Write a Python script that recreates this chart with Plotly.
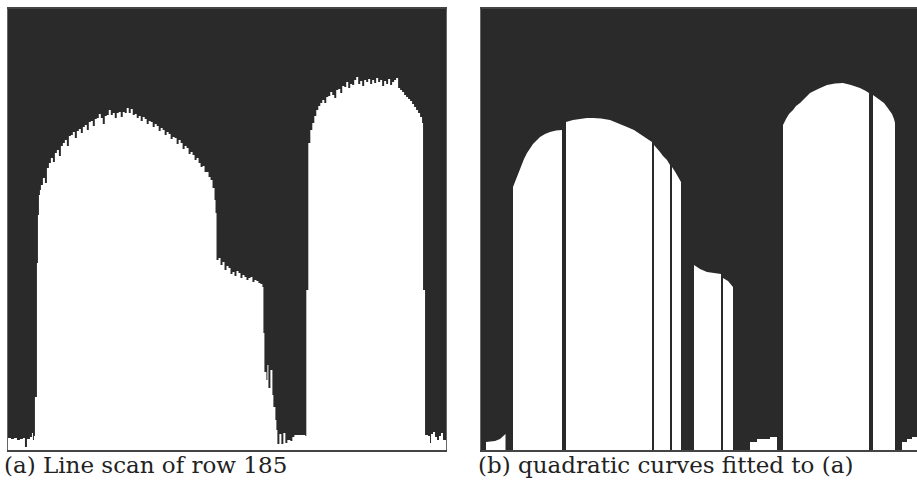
import plotly.graph_objects as go

# ---- Panel (a): raw line scan of row 185 (column index, brightness level) ----
scan_col = [0, 3, 6, 9, 12, 15, 17, 19, 22, 24, 25, 26, 27, 29, 30, 31, 32, 33, 35, 37, 39, 41, 43, 45,
            47, 49, 51, 53, 55, 57, 59, 61, 63, 65, 67, 69, 71, 73, 75, 77, 79, 81, 83, 85, 87, 89,
            91, 93, 95, 97, 99, 101, 103, 105, 107, 109, 111, 113, 115, 117, 119, 121, 123, 125, 127,
            129, 131, 133, 135, 137, 139, 141, 143, 145, 147, 149, 151, 153, 155, 157, 159, 161, 163,
            165, 167, 169, 171, 173, 175, 177, 179, 181, 183, 185, 187, 189, 191, 193, 195, 197, 199,
            201, 203, 205, 207, 208, 209, 211, 213, 215, 217, 219, 221, 223, 225, 227, 229, 231, 233,
            235, 237, 239, 241, 243, 245, 247, 249, 251, 253, 255, 256, 257, 259, 260, 261, 263, 265,
            266, 268, 269, 270, 272, 274, 276, 278, 280, 283, 285, 287, 293, 298, 299, 301, 303, 305,
            307, 309, 311, 313, 315, 317, 319, 321, 323, 325, 327, 329, 331, 333, 335, 337, 339, 341,
            343, 345, 347, 349, 351, 353, 355, 357, 359, 361, 363, 365, 367, 369, 371, 373, 375, 377,
            379, 381, 383, 385, 387, 389, 391, 393, 395, 397, 399, 401, 403, 405, 407, 409, 411, 413,
            415, 416, 418, 421, 423, 424, 426, 428, 430, 432, 434, 436, 438, 439]
scan_level = [12, 11, 12, 10, 11, 12, 3, 11, 13, 17, 10, 14, 53, 187, 235, 255, 260, 265, 272, 267, 282, 287, 292, 288,
              297, 300, 294, 304, 307, 310, 304, 314, 315, 318, 312, 319, 321, 317, 323, 325, 320, 328,
              329, 324, 331, 332, 336, 332, 326, 334, 335, 340, 335, 337, 332, 337, 338, 333, 338, 337,
              342, 337, 341, 335, 336, 332, 334, 329, 333, 331, 326, 329, 328, 323, 326, 324, 319, 322,
              320, 315, 318, 316, 311, 313, 312, 306, 310, 307, 301, 304, 302, 296, 298, 295, 290, 292,
              287, 283, 284, 278, 278, 273, 270, 262, 250, 237, 190, 192, 185, 188, 180, 184, 182, 176,
              178, 174, 179, 177, 172, 175, 173, 170, 172, 173, 168, 170, 169, 167, 166, 163, 117, 78,
              70, 85, 62, 80, 55, 43, 30, 20, 6, 16, 6, 17, 7, 10, 9, 13, 15, 15, 14, 160, 307, 320,
              327, 334, 340, 344, 347, 350, 347, 353, 354, 358, 355, 352, 360, 361, 357, 364, 363, 368,
              362, 366, 365, 370, 373, 366, 369, 364, 370, 368, 371, 366, 370, 367, 372, 368, 370, 364,
              369, 366, 371, 365, 368, 370, 372, 362, 360, 358, 355, 353, 351, 349, 346, 343, 340, 337,
              333, 327, 160, 15, 14, 7, 16, 18, 13, 10, 14, 17, 10, 10, 10]

# ---- Panel (b): quadratic curves fitted to (a) (column index, level) ----
fit_col = [0, 5, 5, 14, 19, 22, 24.5, 24.5,
           32, 32, 34, 36, 38, 40, 43, 46, 49, 52, 56, 59, 64, 69, 75, 81, 81,
           85, 85, 92, 99, 106, 112, 120, 129, 137, 146, 153, 159, 165, 171, 171,
           173, 173, 176, 179, 182, 186, 189, 189,
           191, 191, 194, 197, 200, 200,
           213, 213, 219, 226, 232, 240, 240,
           242, 242, 247, 252, 252,
           269, 269, 276, 276, 289, 289, 296, 296,
           302, 302, 305, 308, 312, 315, 319, 324, 329, 337, 346, 354, 362, 370, 379, 384, 388, 388,
           392, 392, 396, 399, 403, 406, 409, 411, 413, 414, 414,
           421, 421, 426, 426, 431, 431, 436]
fit_level = [0, 0, 8, 9, 11, 14, 16, 0,
             0, 263, 268, 273, 279, 285, 291, 297, 302, 306, 310, 313, 316, 318, 319.5, 320, 0,
             0, 328, 330, 331, 332, 332, 331.5, 330, 327, 323, 320, 316, 312, 308, 0,
             0, 305, 302, 298, 294, 290, 285, 0,
             0, 283, 278.5, 273, 268, 0,
             0, 185, 181, 178, 177, 176, 0,
             0, 172, 169, 163, 0,
             0, 8, 8, 11, 11, 13, 13, 0,
             0, 325, 331, 336, 340, 344, 347, 352, 357, 361, 365, 366.5, 367, 365, 362, 359.5, 357, 0,
             0, 355, 352, 350, 347, 343, 339, 336, 331, 327, 0,
             0, 8, 8, 11, 11, 13, 13]

captions = ["(a) Line scan of row 185", "(b) quadratic curves fitted to (a)"]

W, H = 917, 490
DARK = "#2a2a2a"

fig = go.Figure()
fig.add_trace(go.Scatter(x=scan_col, y=scan_level, mode="lines", line=dict(width=0, shape="hv"),
                         fill="tozeroy", fillcolor="white", hoverinfo="skip",
                         xaxis="x", yaxis="y"))
fig.add_trace(go.Scatter(x=fit_col, y=fit_level, mode="lines", line=dict(width=0),
                         fill="tozeroy", fillcolor="white", hoverinfo="skip",
                         xaxis="x2", yaxis="y2"))

ydom = [40 / H, 481 / H]
axis_common = dict(showgrid=False, zeroline=False, showticklabels=False, ticks="",
                   showline=True, mirror=True, fixedrange=True)
cap_font = dict(family="DejaVu Serif", size=23, color="#222")
fig.update_layout(
    width=W, height=H, autosize=False,
    margin=dict(l=0, r=0, t=0, b=0, pad=0),
    paper_bgcolor="white", plot_bgcolor=DARK, showlegend=False,
    xaxis=dict(domain=[8 / W, 446 / W], range=[0, 439], linecolor="#444", linewidth=2,
               anchor="y", **axis_common),
    yaxis=dict(domain=ydom, range=[0, 441], linecolor="#666", linewidth=1,
               anchor="x", **axis_common),
    xaxis2=dict(domain=[481 / W, 1.0], range=[0, 436], linecolor="#444", linewidth=2,
                anchor="y2", **axis_common),
    yaxis2=dict(domain=ydom, range=[0, 441], linecolor="#666", linewidth=1,
                anchor="x2", **axis_common),
    annotations=[
        dict(text=captions[0], xref="paper", yref="paper", x=2 / W, y=(H - 465) / H,
             xanchor="left", yanchor="middle", showarrow=False, font=cap_font),
        dict(text=captions[1], xref="paper", yref="paper", x=476 / W, y=(H - 465) / H,
             xanchor="left", yanchor="middle", showarrow=False, font=cap_font),
    ],
)
fig.write_html("out.html", config={"displayModeBar": False},
               post_script="document.body.style.margin='0';document.body.style.overflow='hidden';")
